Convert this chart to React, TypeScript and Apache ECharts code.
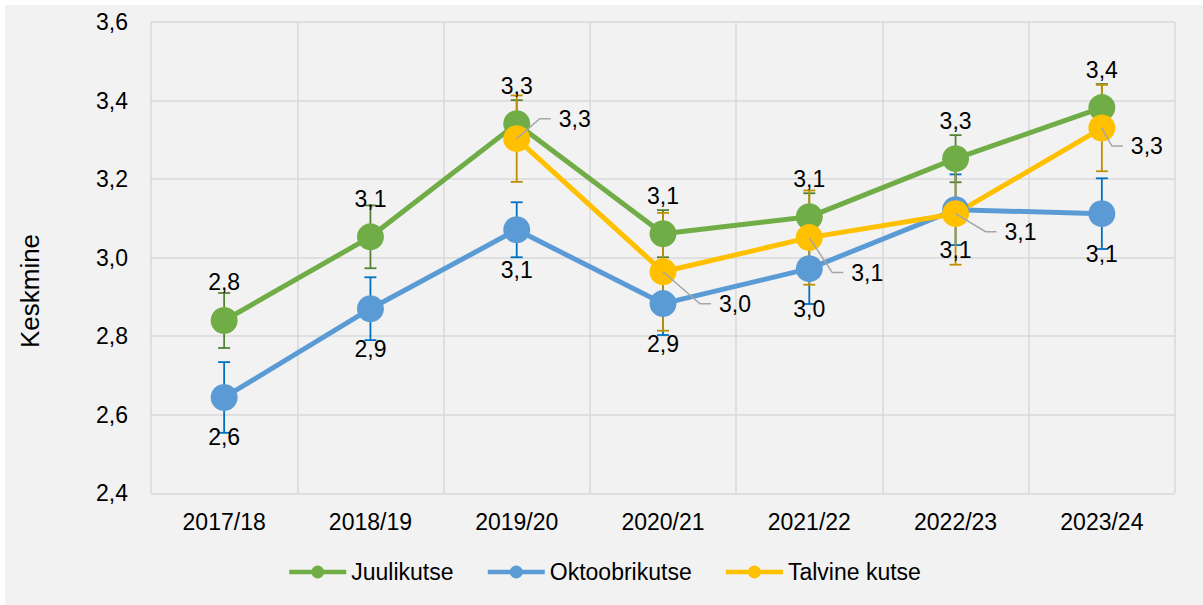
import React, { useEffect, useRef } from "react";
import * as echarts from "echarts";

const categories = ["2017/18", "2018/19", "2019/20", "2020/21", "2021/22", "2022/23", "2023/24"];
const seriesNames = ["Juulikutse", "Oktoobrikutse", "Talvine kutse"];
const juulikutse = [2.84, 3.053, 3.341, 3.061, 3.104, 3.252, 3.382];
const oktoobrikutse = [2.644, 2.87, 3.071, 2.883, 2.972, 3.122, 3.112];
const talvineKutse: (number | null)[] = [null, null, 3.303, 2.964, 3.051, 3.112, 3.33];
const juulikutseErr = [0.07, 0.08, 0.06, 0.06, 0.06, 0.06, 0.06];
const oktoobrikutseErr = [0.09, 0.08, 0.07, 0.08, 0.09, 0.09, 0.09];
const talvineKutseErr: (number | null)[] = [null, null, 0.11, 0.15, 0.12, 0.13, 0.11];
const yMin = 2.4;
const yMax = 3.6;
const yStep = 0.2;
const yAxisTitle = "Keskmine";

// label leader-line offsets (pixels) for the "Talvine kutse" labels
const talvineLabelOffsets: ([number, number] | null)[] = [null, null, [23, -20], [37, 32], [23, 35], [30, 18], [10, 18]];

const FONT = '"Liberation Sans", Arial, sans-serif';
const fmt = (v: number) => v.toFixed(1).replace(".", ",");

function errorSeries(name: string, values: (number | null)[], errs: (number | null)[], color: string) {
  const data: number[][] = [];
  values.forEach((v, i) => {
    const e = errs[i];
    if (v != null && e != null) data.push([i, v - e, v + e]);
  });
  return {
    type: "custom",
    name: name + " err",
    z: 1,
    silent: true,
    data,
    encode: { x: 0, y: [1, 2] },
    renderItem: (_params: any, api: any) => {
      const i = api.value(0);
      const lo = api.coord([i, api.value(1)]);
      const hi = api.coord([i, api.value(2)]);
      const w = 6;
      const st = { stroke: color, lineWidth: 1.8 };
      return {
        type: "group",
        children: [
          { type: "line", shape: { x1: hi[0], y1: hi[1], x2: lo[0], y2: lo[1] }, style: st },
          { type: "line", shape: { x1: hi[0] - w, y1: hi[1], x2: hi[0] + w, y2: hi[1] }, style: st },
          { type: "line", shape: { x1: lo[0] - w, y1: lo[1], x2: lo[0] + w, y2: lo[1] }, style: st },
        ],
      };
    },
  };
}

function lineSeries(name: string, values: (number | null)[], color: string, label: any) {
  return {
    type: "line",
    name,
    z: 2,
    data: values.map((v) => (v == null ? "-" : v)),
    symbol: "circle",
    symbolSize: 27,
    lineStyle: { width: 5, color },
    itemStyle: { color },
    label,
  };
}

export default function App() {
  const ref = useRef<HTMLDivElement>(null);
  useEffect(() => {
    if (!ref.current) return;
    const chart = echarts.init(ref.current, null, { renderer: "svg" });

    const talvineLabelData: number[][] = [];
    talvineKutse.forEach((v, i) => {
      const off = talvineLabelOffsets[i];
      if (v != null && off) talvineLabelData.push([i, v, off[0], off[1]]);
    });

    const option: any = {
      animation: false,
      backgroundColor: "#F2F2F2",
      textStyle: { fontFamily: FONT },
      grid: { left: 146, top: 17, right: 28, bottom: 111.7, containLabel: false },
      legend: {
        data: seriesNames,
        left: 282,
        top: 553,
        padding: 0,
        itemGap: 32,
        itemWidth: 57,
        itemHeight: 16,
        lineStyle: { width: 4.5 },
        textStyle: { fontSize: 23, color: "#000", fontFamily: FONT, lineHeight: 28 },
      },
      xAxis: {
        type: "category",
        data: categories,
        boundaryGap: true,
        axisLine: { show: false },
        axisTick: { show: false },
        axisLabel: { fontSize: 23, color: "#000", margin: 17, fontFamily: FONT },
        splitLine: { show: true, lineStyle: { color: "#D9D9D9", width: 1.5 } },
      },
      yAxis: {
        type: "value",
        min: yMin,
        max: yMax,
        interval: yStep,
        axisLine: { show: false },
        axisTick: { show: false },
        axisLabel: { fontSize: 23, color: "#000", margin: 23, fontFamily: FONT, formatter: (v: number) => fmt(v) },
        splitLine: { show: true, lineStyle: { color: "#D9D9D9", width: 1.5 } },
      },
      graphic: [
        {
          type: "text",
          x: 25,
          y: 286,
          rotation: Math.PI / 2,
          style: {
            text: yAxisTitle,
            font: `26px ${FONT}`,
            fill: "#000",
            align: "center",
            verticalAlign: "middle",
            textAlign: "center",
            textVerticalAlign: "middle",
          },
        },
      ],
      series: [
        errorSeries(seriesNames[0], juulikutse, juulikutseErr, "#548235"),
        errorSeries(seriesNames[1], oktoobrikutse, oktoobrikutseErr, "#0070C0"),
        errorSeries(seriesNames[2], talvineKutse, talvineKutseErr, "#BF9000"),
        lineSeries(seriesNames[0], juulikutse, "#70AD47", {
          show: true,
          position: "top",
          distance: 13,
          fontSize: 23,
          color: "#000",
          fontFamily: FONT,
          formatter: (p: any) => fmt(p.value),
        }),
        lineSeries(seriesNames[1], oktoobrikutse, "#5B9BD5", {
          show: true,
          position: "bottom",
          distance: 15,
          fontSize: 23,
          color: "#000",
          fontFamily: FONT,
          formatter: (p: any) => fmt(p.value),
        }),
        lineSeries(seriesNames[2], talvineKutse, "#FFC000", { show: false }),
        {
          type: "custom",
          name: "Talvine kutse labels",
          z: 5,
          silent: true,
          data: talvineLabelData,
          encode: { x: 0, y: 1 },
          renderItem: (_params: any, api: any) => {
            const pt = api.coord([api.value(0), api.value(1)]);
            const dx = api.value(2);
            const dy = api.value(3);
            const ex = pt[0] + dx;
            const ey = pt[1] + dy;
            return {
              type: "group",
              children: [
                {
                  type: "polyline",
                  shape: { points: [[pt[0], pt[1]], [ex, ey], [ex + 11, ey]] },
                  style: { stroke: "#A6A6A6", lineWidth: 1.5, fill: "none" },
                },
                {
                  type: "text",
                  x: ex + 19,
                  y: ey,
                  style: {
                    text: fmt(api.value(1)),
                    font: `23px ${FONT}`,
                    fill: "#000",
                    align: "left",
                    verticalAlign: "middle",
                    textAlign: "left",
                    textVerticalAlign: "middle",
                  },
                },
              ],
            };
          },
        },
      ],
    };
    chart.setOption(option);
    return () => chart.dispose();
  }, []);

  return (
    <div style={{ position: "absolute", left: 0, top: 0, width: 1203, height: 605, background: "#fff" }}>
      <div ref={ref} style={{ position: "absolute", left: 5, top: 5, width: 1198, height: 600 }} />
    </div>
  );
}
